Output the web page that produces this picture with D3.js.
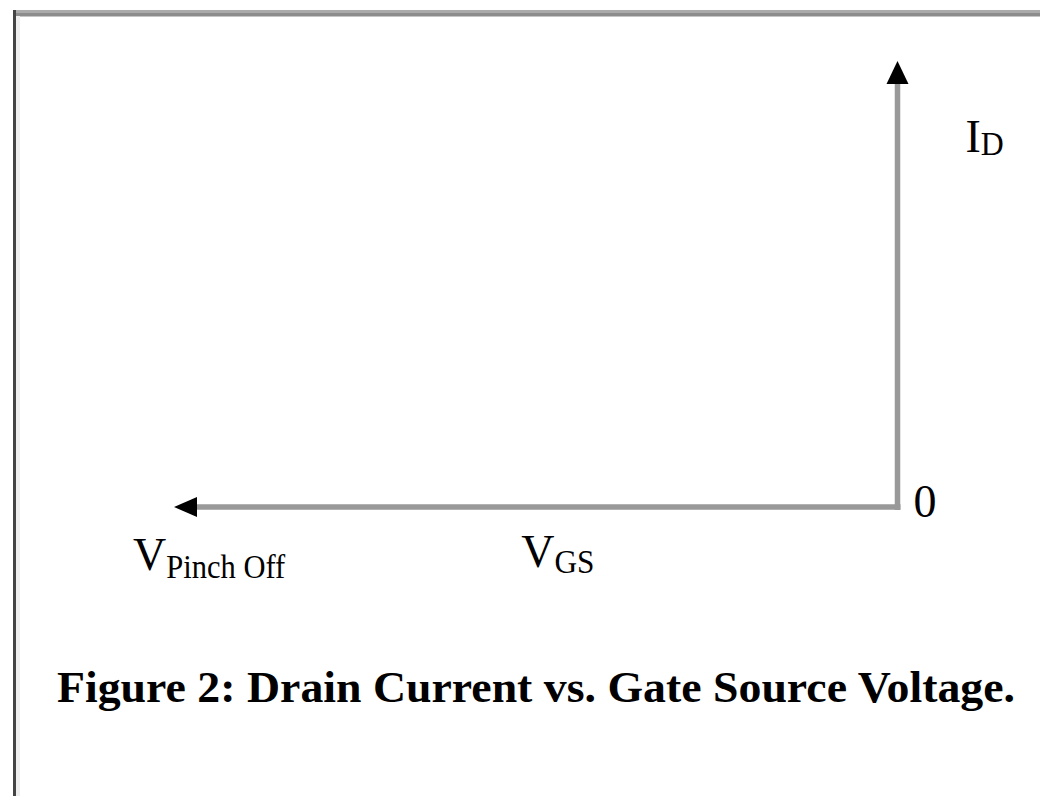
<!DOCTYPE html>
<html>
<head>
<meta charset="utf-8">
<script src="https://cdn.jsdelivr.net/npm/d3@7"></script>
<style>
  html, body { margin: 0; padding: 0; background: #fff; }
  svg { display: block; }
</style>
</head>
<body>
<script>
(function(){

	// axis ends: V_pinch-off (left) .. 0, and 0 .. I_D (top)
	var vgsDomain = [-1, 0];
	var idDomain = [0, 1];
	var originLabel = ["0"];
	var xLabels = [{main: "V", sub: "Pinch Off", at: -1}, {main: "V", sub: "GS", at: -0.52}];
	var yLabel = {main: "I", sub: "D"};
	var caption = "Figure 2: Drain Current vs. Gate Source Voltage.";

	const W = 1040, H = 796;
	const FONT = "'Liberation Serif', 'Times New Roman', serif";
	const AXIS_COLOR = "#999";
	const ARROW = 23, ARROW_HALF = 11;

	var x = d3.scaleLinear().domain(vgsDomain).range([174, 897.5]);
	var y = d3.scaleLinear().domain(idDomain).range([507, 61]);

	var svg = d3.select("body").append("svg")
		.attr("width", W).attr("height", H);

	// frame (top + left edges of the scanned figure)
	svg.append("rect").attr("x", 13).attr("y", 10).attr("width", W - 13).attr("height", 3).attr("fill", "#aaa");
	svg.append("rect").attr("x", 13).attr("y", 13).attr("width", W - 13).attr("height", 3.5).attr("fill", "#8c8c8c");
	svg.append("rect").attr("x", 16).attr("y", 16).attr("width", 4).attr("height", H - 16).attr("fill", "#eee");
	svg.append("rect").attr("x", 13).attr("y", 10).attr("width", 3).attr("height", H - 10).attr("fill", "#444");

	// axis lines
	svg.append("line")
		.attr("x1", x(0) + 3).attr("y1", y(0))
		.attr("x2", x(vgsDomain[0]) + ARROW - 2).attr("y2", y(0))
		.attr("stroke", AXIS_COLOR).attr("stroke-width", 5.5);
	svg.append("line")
		.attr("x1", x(0)).attr("y1", y(0) + 3)
		.attr("x2", x(0)).attr("y2", y(idDomain[1]) + ARROW - 2)
		.attr("stroke", AXIS_COLOR).attr("stroke-width", 5.5);

	// arrow heads
	var x0 = x(vgsDomain[0]), y0 = y(0);
	svg.append("path")
		.attr("d", d3.line()([[x0, y0], [x0 + ARROW, y0 - ARROW_HALF + 1], [x0 + ARROW, y0 + ARROW_HALF - 1]]) + "Z")
		.attr("fill", "#000");
	var ax = x(0), ay = y(idDomain[1]);
	svg.append("path")
		.attr("d", d3.line()([[ax, ay], [ax - ARROW_HALF, ay + ARROW], [ax + ARROW_HALF, ay + ARROW]]) + "Z")
		.attr("fill", "#000");

	function subLabel(g, lbl, px, py, mainSize, subSize, subDy, subWidth){
		var t = g.append("text")
			.attr("x", px).attr("y", py)
			.attr("font-family", FONT).attr("fill", "#000");
		t.append("tspan").attr("font-size", mainSize).text(lbl.main);
		var s = t.append("tspan").attr("font-size", subSize).attr("dy", subDy).text(lbl.sub);
		if (subWidth) s.attr("textLength", subWidth).attr("lengthAdjust", "spacingAndGlyphs");
		return t;
	}

	// origin
	svg.selectAll("text.origin").data(originLabel).enter().append("text")
		.attr("class", "origin")
		.attr("x", x(0) + 16).attr("y", y(0) + 10)
		.attr("font-family", FONT).attr("font-size", 46)
		.text(function(d){ return d; });

	// x labels
	subLabel(svg, xLabels[0], x(xLabels[0].at) - 41, 570, 46, 34, 8, 119);
	subLabel(svg, xLabels[1], x(xLabels[1].at), 567, 46, 34, 6, 40);

	// y label
	subLabel(svg, yLabel, x(0) + 68, 152, 46, 34, 3, 23);

	// caption
	svg.append("text")
		.attr("x", 57).attr("y", 702)
		.attr("font-family", FONT).attr("font-weight", "bold").attr("font-size", 45)
		.attr("textLength", 958).attr("lengthAdjust", "spacingAndGlyphs")
		.text(caption);

})();
</script>
</body>
</html>
